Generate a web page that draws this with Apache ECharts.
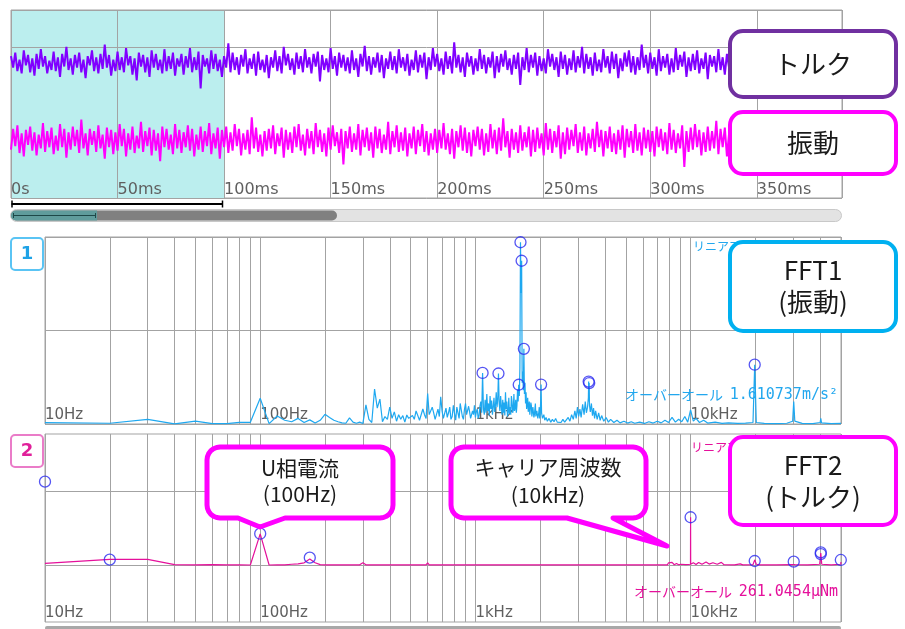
<!DOCTYPE html>
<html>
<head>
<meta charset="utf-8">
<title>トルク・振動 FFT</title>
<script src="https://cdn.jsdelivr.net/npm/echarts@6.0.0/dist/echarts.min.js"></script>
<style>
html, body { margin: 0; padding: 0; background: #fff; }
#chart { width: 905px; height: 629px; }
</style>
</head>
<body>
<div id="chart"></div>
<script>
// 時間波形 (1ms毎、ベースラインからの相対値)
const sampleStepMs = 1
const torque = [
  6, -4, 9, -7, 3, -9, 11, -2, 7, -8, 4, -11, 8, -5, 12, -3, 6, -9, 2, -6,
  10, -7, 5, -12, 8, -3, 14, -6, 4, -10, 7, -4, 9, -8, 3, -13, 6, -2, 11, -7,
  5, -9, 8, -5, 16, -4, 7, -11, 3, -7, 10, -6, 5, -8, 13, -2, 6, -10, 4, -15,
  9, -3, 7, -8, 5, -12, 11, -4, 8, -6, 3, -9, 12, -7, 6, -5, 9, -11, 4, -3,
  8, -10, 6, -4, 13, -8, 5, -6, 10, -22, 7, -3, 4, -9, 11, -5, 8, -7, 3, -12,
  6, -4, 17, -8, 9, -6, 5, -10, 7, -3, 12, -9, 4, -5, 8, -11, 10, -6, 3, -8,
  7, -13, 5, -4, 11, -7, 6, -9, 14, -2, 8, -6, 4, -10, 9, -5, 6, -8, 12, -4,
  5, -9, 8, -3, 10, -16, 7, -6, 4, -8, 13, -5, 6, -11, 9, -4, 7, -7, 5, -9,
  11, -6, 4, -12, 8, -3, 15, -7, 6, -10, 5, -4, 9, -8, 7, -13, 4, -5, 10, -6,
  6, -9, 12, -4, 5, -7, 8, -11, 3, -6, 11, -8, 7, -4, 9, -14, 5, -6, 13, -3,
  8, -7, 4, -10, 10, -5, 6, -9, 18, -4, 7, -8, 5, -12, 9, -3, 6, -10, 4, -7,
  12, -5, 7, -9, 5, -4, 10, -13, 6, -8, 8, -3, 11, -6, 4, -10, 7, -5, 9, -19,
  5, -6, 13, -8, 7, -4, 9, -11, 6, -7, 4, -9, 12, -3, 8, -6, 5, -12, 10, -5,
  7, -10, 4, -6, 11, -8, 6, -4, 14, -9, 8, -5, 5, -11, 9, -7, 3, -8, 12, -4,
  6, -9, 10, -5, 8, -13, 4, -7, 9, -3, 11, -8, 6, -10, 5, -6, 16, -4, 7, -9,
  9, -5, 5, -11, 12, -7, 6, -4, 8, -10, 4, -8, 13, -6, 7, -3, 10, -12, 5, -7,
  8, -6, 11, -9, 4, -5, 9, -14, 7, -3, 6, -8, 12, -6, 5, -10, 8, -4, 15, -7,
  6, -11, 7, -4, 10, -8, 5, -6, 13, -9, 8, -3, 4, -12, 9, -5, 7, -8, 11, -4,
  5, -7, 9, -10, 6, -4, 12, -6, 8, -13, 4, -5, 10, -8, 7, -3, 14, -9, 6, -6,
  9, -4, 5, -10, 11, -7, 6, -5, 8, -9
]
const vibration = [
  -8, 10, -5, 13, -11, 6, -14, 9, -4, 12, -9, 7, -13, 5, -7, 15, -10, 8, -6, 11,
  -12, 4, -9, 14, -6, 10, -15, 7, -8, 12, -5, 9, -11, 18, -7, 6, -13, 10, -4, 8,
  -10, 13, -7, 5, -16, 11, -6, 9, -12, 7, -9, 14, -5, 10, -14, 6, -8, 12, -11, 4,
  -7, 16, -10, 8, -5, 11, -13, 9, -9, 6, -18, 12, -6, 10, -8, 5, -12, 14, -7, 9,
  -11, 7, -6, 13, -9, 10, -14, 5, -8, 12, -10, 8, -5, 15, -12, 6, -7, 11, -16, 9,
  -6, 12, -11, 7, -9, 14, -5, 10, -13, 6, -8, 9, -12, 20, -7, 11, -10, 5, -14, 8,
  -9, 10, -7, 13, -12, 6, -5, 11, -15, 9, -8, 7, -11, 12, -6, 14, -9, 5, -13, 10,
  -7, 8, -12, 15, -6, 9, -10, 6, -14, 11, -8, 13, -5, 7, -11, 10, -21, 8, -7, 12,
  -10, 6, -8, 14, -13, 9, -6, 11, -9, 7, -15, 12, -7, 10, -11, 5, -8, 16, -12, 8,
  -6, 13, -10, 7, -9, 11, -14, 6, -7, 12, -12, 9, -5, 14, -10, 8, -13, 6, -8, 10,
  -11, 9, -7, 15, -8, 6, -12, 10, -16, 8, -6, 13, -9, 11, -11, 7, -14, 9, -5, 12,
  -8, 10, -13, 6, -10, 14, -7, 9, -12, 11, -9, 19, -6, 8, -15, 10, -8, 7, -11, 13,
  -9, 7, -6, 12, -14, 9, -10, 11, -7, 6, -13, 15, -8, 10, -11, 8, -6, 13, -16, 7,
  -12, 11, -8, 9, -5, 14, -11, 7, -9, 12, -13, 6, -7, 10, -10, 16, -6, 9, -14, 8,
  -7, 12, -10, 6, -12, 9, -8, 13, -15, 10, -6, 8, -11, 14, -9, 7, -13, 11, -7, 9,
  -10, 8, -14, 12, -6, 10, -9, 7, -12, 15, -8, 9, -11, 6, -7, 13, -23, 8, -10, 11,
  -8, 14, -6, 9, -13, 7, -10, 12, -9, 8, -7, 17, -12, 10, -6, 11, -14, 6, -9, 13,
  -11, 7, -8, 15, -10, 9, -5, 12, -13, 8, -9, 10, -7, 14, -12, 6, -11, 9, -8, 18,
  -6, 10, -12, 8, -9, 13, -15, 7, -8, 11, -10, 9, -13, 12, -7, 6, -11, 14, -9, 8,
  -12, 10, -7, 13, -9, 6, -14, 11, -8, 9
]
const timeRangeMs = 390
const selectedRangeMs = [0, 100]

// FFT1 (振動) [周波数Hz, 振幅]
const fft1Spectrum = [
  [10, 0.7], [20, 0.4], [30, 2.5], [40, 0.1], [50, 1.5], [60, 0.2], [70, 0.2], [80, 0.9], [90, 0.9],
  [100, 13.8], [110, 0.2], [120, 4.3], [130, 2.0], [140, 1.2], [150, 3.0], [160, 0.8], [170, 2.2],
  [180, 0.5], [190, 2.0], [200, 5.2], [210, 3.5], [220, 2.0], [230, 1.2], [240, 0.6], [250, 0.4],
  [260, 3.3], [270, 1.0], [280, 0.4], [290, 1.0], [300, 0.3], [310, 10.2], [320, 2.5], [330, 0.8],
  [340, 18.7], [350, 8.5], [360, 13.3], [370, 1.2], [380, 4.0], [390, 2.5], [400, 9.0], [410, 3.0],
  [420, 6.5], [430, 1.5], [440, 5.0], [450, 2.5], [460, 4.5], [470, 1.0], [480, 4.8], [490, 3.0],
  [500, 2.0], [510, 4.5], [520, 2.5], [530, 7.0], [540, 6.0], [550, 2.0], [560, 3.0], [570, 8.0],
  [580, 5.0], [590, 3.0], [600, 16.3], [610, 5.0], [620, 4.0], [630, 9.0], [640, 6.0], [650, 2.5],
  [660, 3.0], [670, 8.0], [680, 4.0], [690, 14.5], [700, 7.0], [710, 3.0], [720, 4.0], [730, 8.5],
  [740, 3.5], [750, 6.0], [760, 9.0], [770, 2.5], [780, 4.0], [790, 10.0],
  [800, 5.5], [810, 2.0], [820, 9.0], [830, 6.0], [840, 3.0], [850, 11.0], [860, 7.5], [870, 4.0],
  [880, 2.5], [890, 8.0], [900, 11.0], [910, 5.0], [920, 4.0], [930, 9.5], [940, 6.5], [950, 3.0],
  [960, 2.0], [970, 7.0], [980, 5.0], [990, 10.0], [1000, 3.5], [1010, 6.5], [1020, 8.0], [1030, 3.0],
  [1040, 4.5], [1050, 9.5], [1060, 12.0], [1070, 6.0],
  [1080, 27.3], [1090, 8.0], [1100, 5.0], [1110, 13.0], [1120, 6.0], [1130, 16.0], [1140, 7.0],
  [1150, 11.0], [1160, 4.5], [1170, 15.0], [1180, 8.0], [1190, 12.5], [1200, 5.0], [1210, 9.0],
  [1220, 14.0], [1230, 6.5], [1240, 10.0], [1250, 17.0], [1260, 9.0], [1270, 13.0], [1280, 27.0],
  [1290, 11.0], [1300, 7.0], [1310, 15.0], [1320, 9.5], [1330, 5.0], [1340, 13.0], [1350, 6.0],
  [1360, 11.5], [1370, 4.5], [1380, 17.0], [1390, 8.0], [1400, 12.0], [1410, 4.0], [1420, 6.5],
  [1430, 14.0], [1440, 5.5], [1450, 9.0], [1460, 5.0], [1470, 15.0], [1480, 12.0], [1490, 6.0],
  [1500, 7.5], [1510, 16.0], [1520, 7.0], [1530, 8.5], [1540, 13.0], [1550, 6.0], [1560, 10.0],
  [1570, 18.5], [1580, 12.0], [1590, 21.0], [1600, 15.0], [1610, 30.0], [1620, 97.2], [1630, 70.0],
  [1640, 87.3], [1650, 22.0], [1660, 28.0], [1670, 18.0], [1680, 40.2], [1690, 16.0], [1700, 22.0],
  [1710, 11.0], [1720, 17.0], [1730, 8.0], [1740, 9.0], [1750, 14.0], [1760, 6.5], [1770, 7.0],
  [1780, 12.0], [1790, 5.0], [1800, 6.0], [1810, 11.5], [1820, 10.0], [1830, 4.0], [1840, 4.5],
  [1850, 9.0], [1860, 8.5], [1870, 3.5], [1880, 5.0], [1890, 8.0], [1900, 11.0], [1910, 4.0],
  [1920, 4.0], [1930, 7.0], [1940, 7.5], [1950, 3.0], [1960, 3.5], [1970, 6.0], [1980, 9.0],
  [1990, 3.0], [2000, 5.0], [2010, 12.0], [2020, 21.1], [2030, 6.0], [2050, 3.0], [2080, 5.0],
  [2100, 2.0], [2130, 3.5], [2160, 1.5], [2200, 3.0], [2240, 1.0], [2280, 2.5], [2320, 1.2],
  [2360, 3.0], [2400, 1.0], [2450, 2.0], [2500, 0.8], [2550, 2.5], [2600, 1.0], [2650, 2.0],
  [2700, 3.5], [2750, 1.5], [2800, 5.0], [2850, 2.5], [2900, 7.0], [2940, 3.0], [2980, 9.0],
  [3020, 4.0], [3060, 8.0], [3100, 3.5], [3150, 10.5], [3200, 5.0], [3240, 12.0], [3280, 6.0],
  [3320, 9.0], [3350, 14.0], [3360, 22.7], [3370, 12.0], [3380, 21.9], [3390, 10.0], [3420, 6.5],
  [3460, 11.0], [3500, 4.5], [3540, 8.5], [3580, 3.0], [3620, 7.0], [3680, 2.5], [3740, 6.0],
  [3800, 2.0], [3860, 4.5], [3950, 1.5], [4050, 3.5], [4150, 1.0], [4250, 2.5], [4400, 0.8],
  [4550, 2.0], [4700, 0.6], [4900, 1.5], [5100, 0.5], [5300, 1.2], [5500, 0.4], [5800, 1.0],
  [6100, 0.3], [6400, 1.2], [6700, 0.5], [7000, 1.5], [7300, 0.6], [7600, 2.0], [7900, 0.8],
  [8200, 3.5], [8500, 1.0], [8800, 2.5], [9100, 1.2], [9400, 4.0], [9700, 1.0], [10000, 7.5],
  [10300, 1.5], [10600, 3.0], [11000, 0.8], [11500, 2.0], [12000, 0.5], [13000, 1.0], [14000, 0.3],
  [15000, 0.6], [16500, 0.3], [18000, 0.5], [19500, 0.8], [19860, 31.7], [20200, 0.8], [22000, 0.3],
  [25000, 0.2], [28000, 0.4], [29800, 1.5], [30150, 12.0], [30500, 1.5], [33000, 0.3], [37000, 0.2],
  [40000, 0.8], [40270, 3.0], [40600, 0.6], [45000, 0.2], [50000, 0.3]
]
const fft1Peaks = [
  [1080, 27.3], [1280, 27.0], [1590, 21.0], [1620, 97.2], [1640, 87.3], [1680, 40.2],
  [2020, 21.1], [3360, 22.7], [3380, 21.9], [19860, 31.7]
]

// FFT2 (トルク) [周波数Hz, 振幅]
const fft2Spectrum = [
  [10, 0.023], [20, 0.075], [30, 0.075], [40, 0.005], [50, 0.003], [60, 0.004], [70, 0.003],
  [80, 0.003], [90, 0.0], [100, 0.42], [110, 0.0], [120, 0.002], [130, 0.003], [140, 0.01],
  [150, 0.015], [160, 0.03], [170, 0.08], [180, 0.03], [190, 0.005], [200, 0.003], [250, 0.002],
  [290, 0.002], [300, 0.03], [310, 0.002], [400, 0.001], [500, 0.002], [590, 0.002], [600, 0.03],
  [610, 0.002], [800, 0.001], [1000, 0.001], [1300, 0.001], [1690, 0.002], [1700, 0.025],
  [1710, 0.002], [1930, 0.002], [1940, 0.02], [1950, 0.002], [3000, 0.001], [5000, 0.001],
  [7800, 0.002], [7900, 0.03], [8000, 0.005], [8200, 0.035], [8400, 0.004], [8600, 0.02],
  [8800, 0.003], [9000, 0.01], [9500, 0.004], [9990, 0.01], [10000, 0.645], [10010, 0.01],
  [10300, 0.03], [10600, 0.008], [10900, 0.035], [11300, 0.01], [11800, 0.04], [12200, 0.012],
  [12700, 0.03], [13300, 0.01], [13900, 0.035], [14300, 0.004], [16000, 0.002], [17000, 0.015],
  [17500, 0.002], [19500, 0.005], [19860, 0.07], [20200, 0.01], [21000, 0.002], [25000, 0.002],
  [29800, 0.005], [30150, 0.03], [30500, 0.004], [35000, 0.002], [39800, 0.01], [40270, 0.16],
  [40700, 0.01], [45000, 0.002], [49900, 0.01], [50000, 0.04]
]
const fft2Peaks = [
  [10, 1.126], [20, 0.072], [100, 0.423], [170, 0.099], [10000, 0.645], [19860, 0.054],
  [30150, 0.045], [40270, 0.148], [40270, 0.17], [49900, 0.068]
]

// 対数軸の補助グリッド
const minorFreqs = [
  20, 30, 40, 50, 60, 70, 80, 90,
  200, 300, 400, 500, 600, 700, 800, 900,
  2000, 3000, 4000, 5000, 6000, 7000, 8000, 9000,
  20000, 30000, 40000
]
const decadeLabels = { 1: '10Hz', 2: '100Hz', 3: '1kHz', 4: '10kHz' }

const gridColor = '#a3a3a3'
const jpFont = "'Noto Sans CJK JP', sans-serif"

function freqLabel (v) {
  const p = Math.log10(v)
  const r = Math.round(p)
  if (Math.abs(p - r) > 1e-6) return ''
  return decadeLabels[r] || ''
}

function timeLabel (v) {
  if (v % 50 !== 0) return ''
  return v === 0 ? '0s' : v + 'ms'
}

function logAxis (gridIndex) {
  return {
    type: 'log',
    gridIndex,
    logBase: 10,
    min: 10,
    max: 50000,
    z: 1,
    axisLine: { show: false },
    axisTick: { show: false },
    splitLine: { lineStyle: { color: gridColor } },
    axisLabel: {
      inside: true,
      align: 'left',
      margin: 1,
      color: '#5f5f5f',
      fontFamily: 'DejaVu Sans',
      fontSize: 15,
      formatter: freqLabel
    }
  }
}

// 角丸の吹き出し (下辺にしっぽ) の頂点列
function calloutPoints (x0, y0, x1, y1, r, tailLeft, tailRight, tip) {
  const pts = []
  const arc = (cx, cy, a0, a1) => {
    for (let k = 0; k <= 6; k++) {
      const a = a0 + (a1 - a0) * k / 6
      pts.push([cx + r * Math.cos(a), cy + r * Math.sin(a)])
    }
  }
  arc(x0 + r, y0 + r, Math.PI, Math.PI * 1.5)
  arc(x1 - r, y0 + r, Math.PI * 1.5, Math.PI * 2)
  arc(x1 - r, y1 - r, 0, Math.PI * 0.5)
  pts.push([tailRight, y1], tip, [tailLeft, y1])
  arc(x0 + r, y1 - r, Math.PI * 0.5, Math.PI)
  return pts
}

function labelBox (x, y, w, h, color, text, lineHeight) {
  return [
    {
      type: 'rect', z: 10,
      shape: { x, y, width: w, height: h, r: 13 },
      style: { fill: '#fff', stroke: color, lineWidth: 4 }
    },
    {
      type: 'text', z: 11, x: x + w / 2, y: y + h / 2,
      style: { text, fill: '#1a1a1a', fontSize: 26, fontFamily: jpFont, lineHeight, align: 'center', verticalAlign: 'middle' }
    }
  ]
}

function numberBox (y, color, textColor, text) {
  return [
    {
      type: 'rect', z: 10,
      shape: { x: 11, y, width: 32, height: 32, r: 4 },
      style: { fill: '#fff', stroke: color, lineWidth: 2 }
    },
    {
      type: 'text', z: 11, x: 27, y: y + 16,
      style: { text, fill: textColor, fontSize: 18, fontWeight: 'bold', fontFamily: 'DejaVu Sans', align: 'center', verticalAlign: 'middle' }
    }
  ]
}

function overallText (y, color, label, value) {
  return {
    type: 'text', z: 9, x: 838, y,
    style: {
      text: '{a|' + label + '}  {b|' + value + '}',
      align: 'right',
      verticalAlign: 'middle',
      fill: color,
      rich: {
        a: { fontSize: 14, fontFamily: jpFont, fill: color },
        b: { fontSize: 15, fontFamily: 'DejaVu Sans Mono', fill: color }
      }
    }
  }
}

const graphics = [
  // 選択範囲のブラケット
  { type: 'line', z: 10, shape: { x1: 11.5, y1: 204, x2: 223, y2: 204 }, style: { stroke: '#000', lineWidth: 2 } },
  { type: 'line', z: 10, shape: { x1: 12, y1: 200.5, x2: 12, y2: 207.5 }, style: { stroke: '#000', lineWidth: 1.5 } },
  { type: 'line', z: 10, shape: { x1: 222.5, y1: 200.5, x2: 222.5, y2: 207.5 }, style: { stroke: '#000', lineWidth: 1.5 } },
  // スクロールバー
  { type: 'rect', z: 10, shape: { x: 10.5, y: 209.5, width: 831, height: 12, r: 6 }, style: { fill: '#e3e3e3', stroke: '#c8c8c8', lineWidth: 1 } },
  { type: 'rect', z: 11, shape: { x: 11, y: 210.5, width: 326, height: 10, r: 5 }, style: { fill: '#808080' } },
  { type: 'rect', z: 12, shape: { x: 11, y: 210.5, width: 86, height: 10, r: [5, 0, 0, 5] }, style: { fill: '#5f9c9c' } },
  { type: 'line', z: 13, shape: { x1: 13.5, y1: 215.5, x2: 95.5, y2: 215.5 }, style: { stroke: '#1d4848', lineWidth: 1 } },
  { type: 'line', z: 13, shape: { x1: 13.5, y1: 213, x2: 13.5, y2: 218 }, style: { stroke: '#1d4848', lineWidth: 1 } },
  { type: 'line', z: 13, shape: { x1: 95.5, y1: 213, x2: 95.5, y2: 218 }, style: { stroke: '#1d4848', lineWidth: 1 } },
  // 下端のバー
  { type: 'rect', z: 10, shape: { x: 45, y: 626, width: 796, height: 4, r: 2 }, style: { fill: '#a8a8a8' } },
  // リニア表示 (右側は枠の下に隠れる)
  { type: 'text', z: 9, x: 693, y: 246, style: { text: 'リニアアベレージ', fill: '#22a7ee', fontSize: 12, fontFamily: jpFont, verticalAlign: 'middle' } },
  { type: 'text', z: 9, x: 691, y: 447, style: { text: 'リニアアベレージ', fill: '#e5109b', fontSize: 12, fontFamily: jpFont, verticalAlign: 'middle' } },
  overallText(395, '#22a7ee', 'オーバーオール', '1.610737m/s²'),
  overallText(592, '#e5109b', 'オーバーオール', '261.0454μNm'),
  ...numberBox(238, '#5ac4f4', '#1ea2e6', '1'),
  ...numberBox(435, '#ea7cc8', '#e0209a', '2'),
  ...labelBox(730, 31, 166, 66, '#7030a0', 'トルク', 30),
  ...labelBox(730, 112, 166, 62, '#ff00ff', '振動', 30),
  ...labelBox(730, 242, 166, 89, '#00b0f0', 'FFT1\n(振動)', 32),
  ...labelBox(730, 437, 166, 88, '#ff00ff', 'FFT2\n(トルク)', 32),
  // 吹き出し
  {
    type: 'polygon', z: 10,
    shape: { points: calloutPoints(207, 447, 393, 518, 13, 238, 285, [260, 527]) },
    style: { fill: '#fff', stroke: '#ff00ff', lineWidth: 5, lineJoin: 'round' }
  },
  {
    type: 'text', z: 11, x: 300, y: 481,
    style: { text: 'U相電流\n(100Hz)', fill: '#1a1a1a', fontSize: 21, fontFamily: jpFont, lineHeight: 26, align: 'center', verticalAlign: 'middle' }
  },
  {
    type: 'polygon', z: 10,
    shape: { points: calloutPoints(451, 447, 646, 518, 13, 567, 613, [667, 546]) },
    style: { fill: '#fff', stroke: '#ff00ff', lineWidth: 5, lineJoin: 'round' }
  },
  {
    type: 'text', z: 11, x: 548, y: 481,
    style: { text: 'キャリア周波数\n(10kHz)', fill: '#1a1a1a', fontSize: 21, fontFamily: jpFont, lineHeight: 28, align: 'center', verticalAlign: 'middle' }
  }
]

const chart = echarts.init(document.getElementById('chart'))
chart.setOption({
  animation: false,
  backgroundColor: '#fff',
  grid: [
    { left: 11, top: 10, width: 831, height: 188, show: true, borderColor: gridColor, borderWidth: 1 },
    { left: 45, top: 237, width: 796, height: 187, show: true, borderColor: gridColor, borderWidth: 1 },
    { left: 45, top: 434, width: 796, height: 188, show: true, borderColor: gridColor, borderWidth: 1 }
  ],
  xAxis: [
    {
      type: 'value',
      gridIndex: 0,
      min: 0,
      max: timeRangeMs,
      interval: 50,
      z: 1,
      axisLine: { show: false },
      axisTick: { show: false },
      splitLine: { lineStyle: { color: gridColor } },
      axisLabel: {
        inside: true,
        align: 'left',
        margin: 0,
        color: '#5f5f5f',
        fontFamily: 'DejaVu Sans',
        fontSize: 16,
        formatter: timeLabel
      }
    },
    logAxis(1),
    logAxis(2)
  ],
  yAxis: [
    // 時間波形の横グリッド用
    {
      type: 'value', gridIndex: 0, min: 0, max: 188, interval: 151, z: 1,
      axisLine: { show: false }, axisTick: { show: false }, axisLabel: { show: false },
      splitLine: { lineStyle: { color: gridColor } }
    },
    { type: 'value', gridIndex: 0, min: -117, max: 46, show: false },
    { type: 'value', gridIndex: 0, min: -50, max: 113, show: false },
    {
      type: 'value', gridIndex: 1, min: 0, max: 100, interval: 50, z: 1,
      axisLine: { show: false }, axisTick: { show: false }, axisLabel: { show: false },
      splitLine: { lineStyle: { color: gridColor } }
    },
    { type: 'value', gridIndex: 2, min: -0.77, max: 1.77, show: false }
  ],
  series: [
    {
      name: 'トルク',
      type: 'line',
      xAxisIndex: 0,
      yAxisIndex: 1,
      data: torque.map((v, i) => [i * sampleStepMs, v]),
      symbol: 'none',
      lineStyle: { color: '#8000ff', width: 2 },
      itemStyle: { color: '#8000ff' },
      markArea: {
        silent: true,
        z: 0,
        itemStyle: { color: '#bbeeee' },
        data: [[{ xAxis: selectedRangeMs[0] }, { xAxis: selectedRangeMs[1] }]]
      }
    },
    {
      name: '振動',
      type: 'line',
      xAxisIndex: 0,
      yAxisIndex: 2,
      data: vibration.map((v, i) => [i * sampleStepMs, v]),
      symbol: 'none',
      lineStyle: { color: '#ff00ff', width: 2 },
      itemStyle: { color: '#ff00ff' }
    },
    {
      name: 'FFT1',
      type: 'line',
      xAxisIndex: 1,
      yAxisIndex: 3,
      data: fft1Spectrum,
      symbol: 'none',
      lineStyle: { color: '#1ea8f0', width: 1.2 },
      itemStyle: { color: '#1ea8f0' },
      markLine: {
        silent: true,
        z: 1,
        symbol: 'none',
        label: { show: false },
        lineStyle: { color: gridColor, width: 1, type: 'solid' },
        data: minorFreqs.map(f => ({ xAxis: f }))
      }
    },
    {
      name: 'FFT1ピーク',
      type: 'scatter',
      xAxisIndex: 1,
      yAxisIndex: 3,
      data: fft1Peaks,
      symbol: 'circle',
      symbolSize: 11,
      silent: true,
      z: 3,
      itemStyle: { color: 'rgba(0,0,0,0)', borderColor: '#2a2af0', borderWidth: 1.3 }
    },
    {
      name: 'FFT2',
      type: 'line',
      xAxisIndex: 2,
      yAxisIndex: 4,
      data: fft2Spectrum,
      symbol: 'none',
      lineStyle: { color: '#e5109b', width: 1.2 },
      itemStyle: { color: '#e5109b' },
      markLine: {
        silent: true,
        z: 1,
        symbol: 'none',
        label: { show: false },
        lineStyle: { color: gridColor, width: 1, type: 'solid' },
        data: minorFreqs.map(f => ({ xAxis: f })).concat([{ yAxis: 0 }, { yAxis: 1 }])
      }
    },
    {
      name: 'FFT2ピーク',
      type: 'scatter',
      xAxisIndex: 2,
      yAxisIndex: 4,
      data: fft2Peaks,
      symbol: 'circle',
      symbolSize: 11,
      silent: true,
      z: 3,
      itemStyle: { color: 'rgba(0,0,0,0)', borderColor: '#2a2af0', borderWidth: 1.3 }
    }
  ],
  graphic: graphics
})
</script>
</body>
</html>
